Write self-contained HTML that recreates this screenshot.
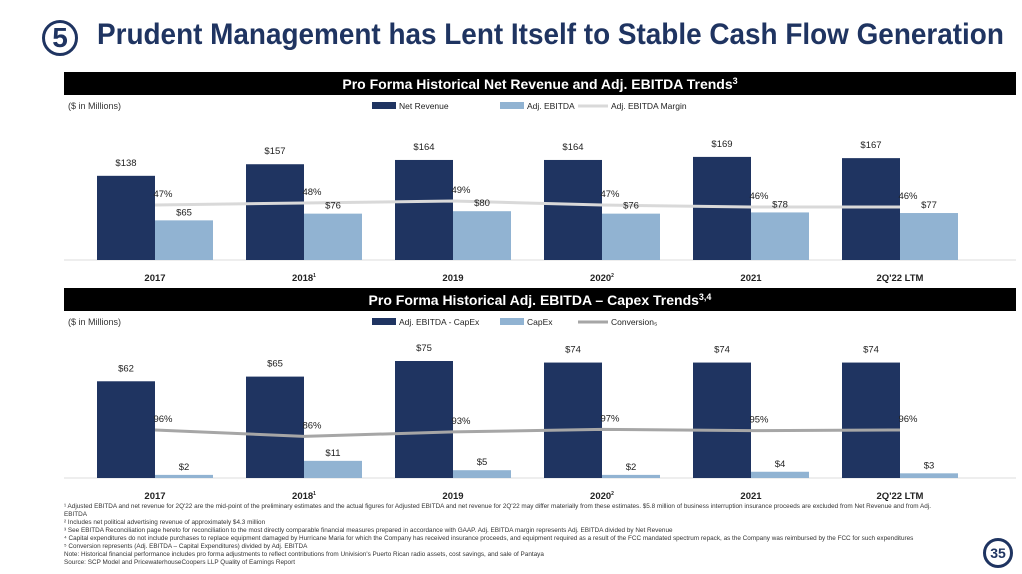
<!DOCTYPE html>
<html><head><meta charset="utf-8"><style>
body{margin:0;width:1022px;height:574px;background:#fff;font-family:"Liberation Sans",sans-serif;overflow:hidden;position:relative}
.t{position:absolute;white-space:nowrap}
</style></head><body>
<div>
<div class="t" style="left:42px;top:20px;width:36px;height:36px;border:3px solid #1f3461;border-radius:50%;box-sizing:border-box;text-align:center;font-weight:bold;font-size:28px;line-height:30px;color:#1f3461">5</div>
<div class="t" style="left:97px;top:18px;font-size:30px;font-weight:bold;color:#1f3461;transform:scaleX(0.93);transform-origin:left">Prudent Management has Lent Itself to Stable Cash Flow Generation</div>
<svg id="svg" width="1022" height="574" style="position:absolute;left:0;top:0"></svg>
<div class="t" style="left:64px;top:503px;font-size:6.5px;line-height:8px;color:#333;transform:scaleX(0.98);transform-origin:left">
¹ Adjusted EBITDA and net revenue for 2Q'22 are the mid-point of the preliminary estimates and the actual figures for Adjusted EBITDA and net revenue for 2Q'22 may differ materially from these estimates. $5.8 million of business interruption insurance proceeds are excluded from Net Revenue and from Adj.<br>EBITDA<br>² Includes net political advertising revenue of approximately $4.3 million<br>³ See EBITDA Reconciliation page hereto for reconciliation to the most directly comparable financial measures prepared in accordance with GAAP. Adj. EBITDA margin represents Adj. EBITDA divided by Net Revenue<br>⁴ Capital expenditures do not include purchases to replace equipment damaged by Hurricane Maria for which the Company has received insurance proceeds, and equipment required as a result of the FCC mandated spectrum repack, as the Company was reimbursed by the FCC for such expenditures<br>⁵ Conversion represents (Adj. EBITDA – Capital Expenditures) divided by Adj. EBITDA<br>Note: Historical financial performance includes pro forma adjustments to reflect contributions from Univision's Puerto Rican radio assets, cost savings, and sale of Pantaya<br>Source: SCP Model and PricewaterhouseCoopers LLP Quality of Earnings Report</div>
<div class="t" style="left:983px;top:538px;width:30px;height:30px;border:3px solid #1f3461;border-radius:50%;box-sizing:border-box;text-align:center;font-weight:bold;font-size:14px;line-height:24px;color:#1f3461">35</div>
</div>
<script>
const categories=["2017","2018","2019","2020","2021","2Q'22 LTM"];
const catSup=["","1","","2","",""];
const netRevenue=[138,157,164,164,169,167];
const adjEbitda=[65,76,80,76,78,77];
const margin=[47,48,49,47,46,46];
const ebitdaLessCapex=[62,65,75,74,74,74];
const capex=[2,11,5,2,4,3];
const conversion=[96,86,93,97,95,96];
const NS="http://www.w3.org/2000/svg";
const svg=document.getElementById('svg');
function mk(tag,attrs,name,txt){const e=document.createElementNS(NS,tag);for(const k in attrs)e.setAttribute(k,attrs[k]);


if(txt!==undefined)e.textContent=txt;svg.appendChild(e);return e;}
const cx=i=>155+i*149;
function chart(top,base,title,sup,a,b,c,aScale,cY,labels,dark,light,lineCol,lineW){
 mk('rect',{x:64,y:top,width:952,height:23,fill:'#000'},'chart-header-bar');
 const tt=mk('text',{x:540,y:top+17,fill:'#fff','font-size':14,'font-weight':'bold','text-anchor':'middle'},'chart-title',title);
 const ts=document.createElementNS(NS,'tspan');ts.setAttribute('dy','-5');ts.setAttribute('font-size','9');ts.textContent=sup;tt.appendChild(ts);
 mk('text',{x:68,y:top+37,'font-size':9,fill:'#333'},'units-label','($ in Millions)');
 const ly=top+34;
 mk('rect',{x:372,y:ly-4,width:24,height:7,fill:dark},'legend-swatch-a');
 mk('text',{x:399,y:ly+3,'font-size':8.5,fill:'#222'},'legend-label-a',labels[0]);
 mk('rect',{x:500,y:ly-4,width:24,height:7,fill:light},'legend-swatch-b');
 mk('text',{x:527,y:ly+3,'font-size':8.5,fill:'#222'},'legend-label-b',labels[1]);
 mk('line',{x1:578,x2:608,y1:ly,y2:ly,stroke:lineCol,'stroke-width':3},'legend-swatch-line');
 mk('text',{x:611,y:ly+3,'font-size':8.5,fill:'#222'},'legend-label-line',labels[2]);
 mk('line',{x1:64,x2:1016,y1:base,y2:base,stroke:'#ddd','stroke-width':1},'x-axis-line');
 const y=v=>base-v*aScale;
 categories.forEach((cat,i)=>{
  const x=cx(i);
  mk('rect',{x:x-58,y:y(a[i]),width:58,height:a[i]*aScale,fill:dark},'bar-a-'+cat);
  mk('rect',{x:x,y:y(b[i]),width:58,height:b[i]*aScale,fill:light},'bar-b-'+cat);
 });
 mk('polyline',{points:categories.map((_,i)=>cx(i)+','+cY(c[i])).join(' '),fill:'none',stroke:lineCol,'stroke-width':lineW},'line-series');
 categories.forEach((cat,i)=>{
  const x=cx(i);
  mk('text',{x:x-29,y:y(a[i])-10,'font-size':9.5,fill:'#222','text-anchor':'middle'},'value-a-'+cat,'$'+a[i]);
  mk('text',{x:x+29,y:y(b[i])-5,'font-size':9.5,fill:'#222','text-anchor':'middle'},'value-b-'+cat,'$'+b[i]);
  mk('text',{x:x+8,y:cY(c[i])-8,'font-size':9.5,fill:'#222','text-anchor':'middle'},'value-line-'+cat,c[i]+'%');
  const xl=mk('text',{x:x,y:base+21,'font-size':9.5,'font-weight':'bold',fill:'#222','text-anchor':'middle'},'x-label-'+cat,cat);
  if(catSup[i]){const s=document.createElementNS(NS,'tspan');s.setAttribute('dy','-4');s.setAttribute('font-size','5');s.textContent=catSup[i];xl.appendChild(s);}
 });
}
chart(72,260,'Pro Forma Historical Net Revenue and Adj. EBITDA Trends','3',netRevenue,adjEbitda,margin,0.61,m=>205-(m-47)*2,['Net Revenue','Adj. EBITDA','Adj. EBITDA Margin'],'#1f3461','#91b3d2','#d9d9d9',3);
chart(288,478,'Pro Forma Historical Adj. EBITDA – Capex Trends','3,4',ebitdaLessCapex,capex,conversion,1.56,v=>430-(v-96)*0.64,['Adj. EBITDA - CapEx','CapEx','Conversion₅'],'#1f3461','#91b3d2','#a6a6a6',3);
</script>
</body></html>
